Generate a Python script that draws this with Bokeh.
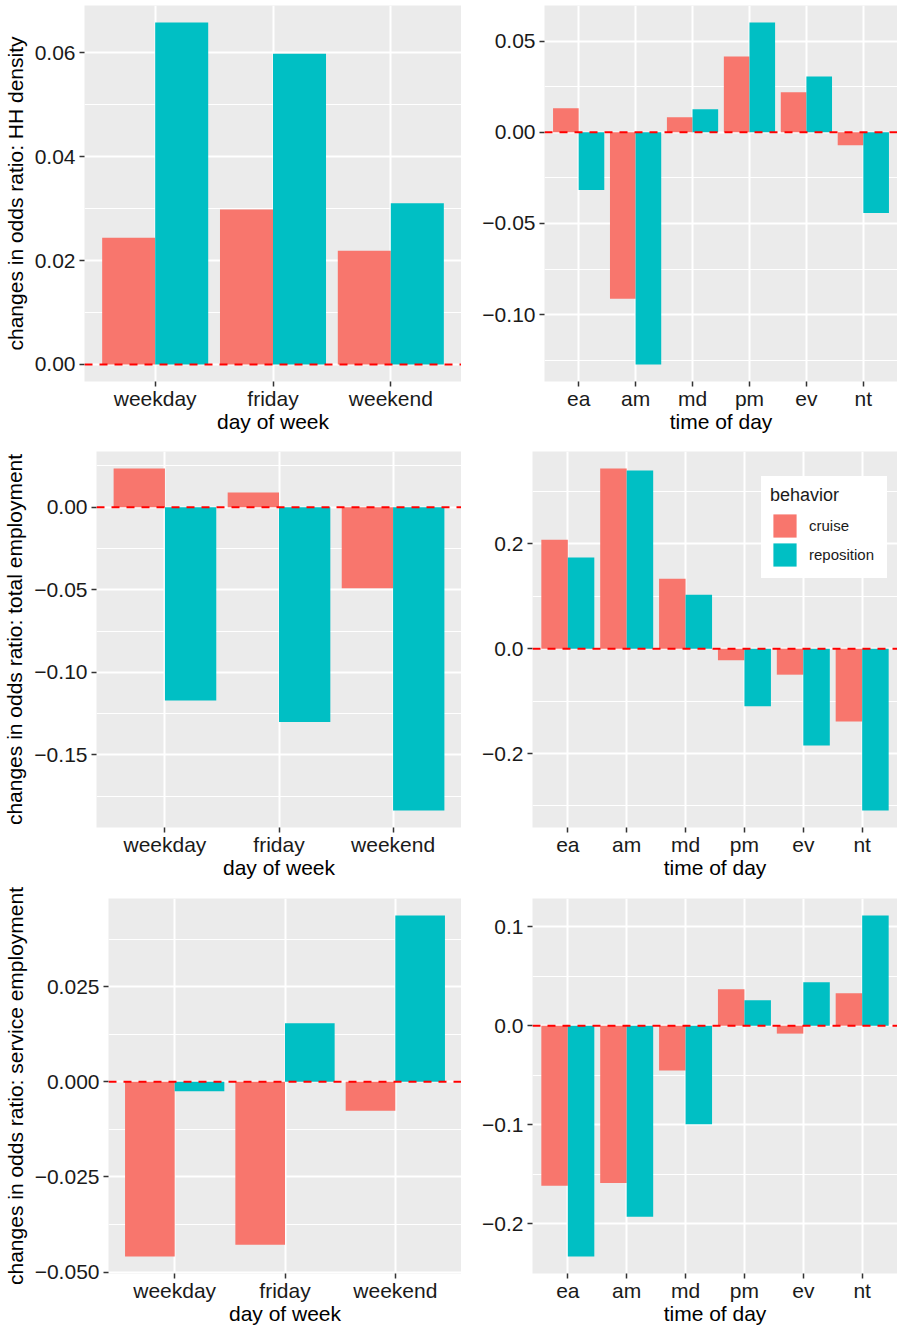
from bokeh.plotting import figure
from bokeh.layouts import column, row
from bokeh.models import (ColumnDataSource, FixedTicker, Range1d, Span,
                          CustomJSTickFormatter, Legend, LegendItem)
from bokeh.transform import dodge
from bokeh.embed import file_html
from bokeh.resources import INLINE

# ---------------- data ----------------
days = ["weekday", "friday", "weekend"]
times = ["ea", "am", "md", "pm", "ev", "nt"]
behaviors = ["cruise", "reposition"]

hh_day_cruise = [0.0244, 0.0298, 0.0219]
hh_day_repos = [0.0658, 0.0598, 0.0310]
hh_tod_cruise = [0.0131, -0.0913, 0.0082, 0.0415, 0.0219, -0.0071]
hh_tod_repos = [-0.0317, -0.1273, 0.0126, 0.0601, 0.0306, -0.0443]

emp_day_cruise = [0.0234, 0.0089, -0.0491]
emp_day_repos = [-0.1171, -0.1300, -0.1836]
emp_tod_cruise = [0.208, 0.3435, 0.1336, -0.0223, -0.0496, -0.1387]
emp_tod_repos = [0.1737, 0.3397, 0.1030, -0.1100, -0.1845, -0.3085]

svc_day_cruise = [-0.0459, -0.0428, -0.0076]
svc_day_repos = [-0.0025, 0.0154, 0.0437]
svc_tod_cruise = [-0.1618, -0.1590, -0.0452, 0.0369, -0.0080, 0.0329]
svc_tod_repos = [-0.2332, -0.1930, -0.0995, 0.0258, 0.0439, 0.1113]

hh_day_ticks = [0.0, 0.02, 0.04, 0.06]
hh_day_minor = [0.01, 0.03, 0.05]
hh_tod_ticks = [-0.10, -0.05, 0.0, 0.05]
hh_tod_minor = [-0.125, -0.075, -0.025, 0.025]
emp_day_ticks = [-0.15, -0.10, -0.05, 0.0]
emp_day_minor = [-0.175, -0.125, -0.075, -0.025, 0.025]
emp_tod_ticks = [-0.2, 0.0, 0.2]
emp_tod_minor = [-0.3, -0.1, 0.1, 0.3]
svc_day_ticks = [-0.05, -0.025, 0.0, 0.025]
svc_day_minor = [-0.0375, -0.0125, 0.0125, 0.0375]
svc_tod_ticks = [-0.2, -0.1, 0.0, 0.1]
svc_tod_minor = [-0.15, -0.05, 0.05]

CRUISE = "#F8766D"
REPOS = "#00BFC4"
FONT = "Liberation Sans"
FS = "21px"


def make_panel(cats, cruise, repos, ticks, minor, decimals, ylabel, xlabel,
               width, height, bl, bt, bb):
    n = len(cats)
    src = ColumnDataSource(dict(x=list(range(1, n + 1)), cruise=cruise, reposition=repos))
    vals = list(cruise) + list(repos) + [0.0]
    lo, hi = min(vals), max(vals)
    pad = 0.05 * (hi - lo)
    p = figure(width=width, height=height, output_backend="svg", toolbar_location=None,
               x_range=Range1d(0.4, n + 0.6), y_range=Range1d(lo - pad, hi + pad),
               min_border_left=bl, min_border_right=0, min_border_top=bt, min_border_bottom=bb)
    p.background_fill_color = "#EBEBEB"
    p.border_fill_color = "white"
    p.outline_line_color = None

    r1 = p.vbar(x=dodge("x", -0.225), top="cruise", bottom=0, width=0.45, source=src,
                fill_color=CRUISE, line_color=None)
    r2 = p.vbar(x=dodge("x", 0.225), top="reposition", bottom=0, width=0.45, source=src,
                fill_color=REPOS, line_color=None)

    p.add_layout(Span(location=0, dimension="width", line_color="red",
                      line_dash="8 7", line_width=2))

    xt = FixedTicker(ticks=list(range(1, n + 1)))
    p.xaxis.ticker = xt
    p.xgrid.ticker = xt
    p.xaxis.major_label_overrides = {i + 1: c for i, c in enumerate(cats)}
    yt = FixedTicker(ticks=ticks, minor_ticks=minor)
    p.yaxis.ticker = yt
    p.ygrid.ticker = yt
    p.yaxis.formatter = CustomJSTickFormatter(
        code="return tick.toFixed(%d).replace('-', '\u2212');" % decimals)

    p.xgrid.grid_line_color = "white"
    p.xgrid.grid_line_width = 2
    p.ygrid.grid_line_color = "white"
    p.ygrid.grid_line_width = 2
    p.ygrid.minor_grid_line_color = "white"
    p.ygrid.minor_grid_line_width = 1

    for ax in (p.xaxis[0], p.yaxis[0]):
        ax.axis_line_color = None
        ax.major_tick_line_color = "#333333"
        ax.major_tick_line_width = 1.5
        ax.major_tick_in = 0
        ax.major_tick_out = 5
        ax.minor_tick_line_color = None
        ax.major_label_text_font = FONT
        ax.major_label_text_font_size = FS
        ax.major_label_text_color = "#1A1A1A"
        ax.axis_label_text_font = FONT
        ax.axis_label_text_font_size = FS
        ax.axis_label_text_font_style = "normal"
        ax.axis_label_text_color = "black"
    p.xaxis.major_label_standoff = 0
    p.xaxis.axis_label_standoff = -3
    p.yaxis.major_label_standoff = 4
    p.yaxis.axis_label_standoff = 5
    p.xaxis.axis_label = xlabel
    if ylabel:
        p.yaxis.axis_label = ylabel
    return p, r1, r2


LW, RW = 461, 436
H1, H2, H3 = 446, 435, 448

p1, _, _ = make_panel(days, hh_day_cruise, hh_day_repos, hh_day_ticks, hh_day_minor, 2,
                      "changes in odds ratio: HH density", "day of week", LW, H1, 83, 5, 65)
p2, _, _ = make_panel(times, hh_tod_cruise, hh_tod_repos, hh_tod_ticks, hh_tod_minor, 2,
                      None, "time of day", RW, H1, 83, 5, 65)
p3, _, _ = make_panel(days, emp_day_cruise, emp_day_repos, emp_day_ticks, emp_day_minor, 2,
                      "changes in odds ratio: total employment", "day of week", LW, H2, 95, 5, 53)
p4, r1, r2 = make_panel(times, emp_tod_cruise, emp_tod_repos, emp_tod_ticks, emp_tod_minor, 1,
                        None, "time of day", RW, H2, 71, 5, 53)
p5, _, _ = make_panel(days, svc_day_cruise, svc_day_repos, svc_day_ticks, svc_day_minor, 3,
                      "changes in odds ratio: service employment", "day of week", LW, H3, 108, 17, 56)
p6, _, _ = make_panel(times, svc_tod_cruise, svc_tod_repos, svc_tod_ticks, svc_tod_minor, 1,
                      None, "time of day", RW, H3, 71, 17, 56)

legend = Legend(items=[LegendItem(label=behaviors[0], renderers=[r1]),
                       LegendItem(label=behaviors[1], renderers=[r2])],
                location=(229, 249), title="behavior",
                title_text_font=FONT, title_text_font_size="18px",
                title_text_font_style="normal", title_text_color="#1A1A1A",
                title_standoff=5,
                label_text_font=FONT, label_text_font_size="15px",
                label_text_color="#1A1A1A",
                glyph_width=29, glyph_height=29, label_height=29, label_width=69,
                label_standoff=10, spacing=0, padding=9, margin=0,
                background_fill_color="white", background_fill_alpha=1.0,
                border_line_color="white", border_line_alpha=0.0)
p4.add_layout(legend)

layout = column(row(p1, p2), row(p3, p4), row(p5, p6))
open("out.html", "w").write(file_html(layout, INLINE))
